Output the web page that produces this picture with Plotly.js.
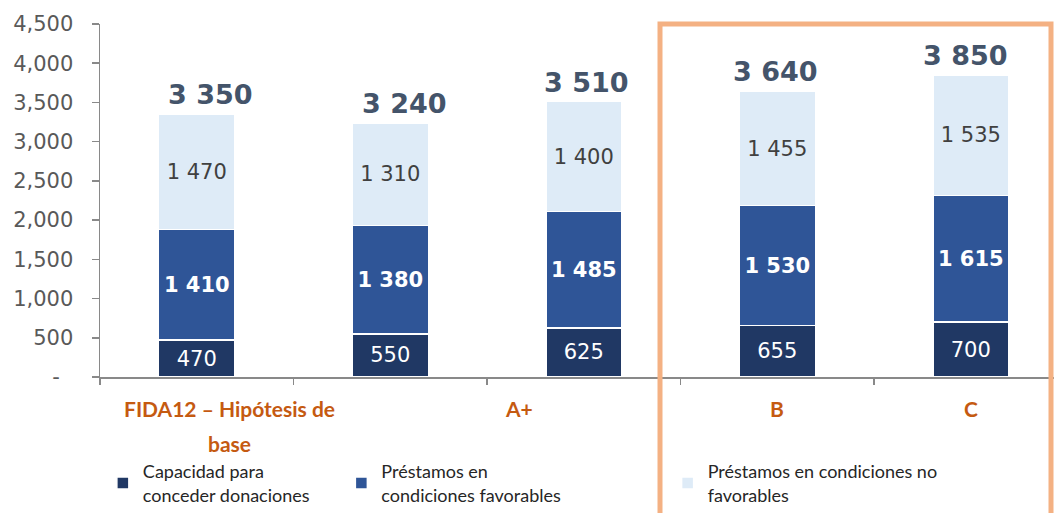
<!DOCTYPE html>
<html>
<head>
<meta charset="utf-8">
<script src="https://cdn.plot.ly/plotly-3.0.1.min.js"></script>
<style>
  html, body { margin: 0; padding: 0; background: #ffffff; }
  #chart { width: 1054px; height: 513px; }
</style>
</head>
<body>
<div id="chart"></div>
<script>
// ---- data ----
const categories = ["FIDA12 – Hipótesis de base", " ", "A+", "B", "C"];
const grantCapacity = [470, 550, 625, 655, 700];          // Capacidad para conceder donaciones
const concessionalLoans = [1410, 1380, 1485, 1530, 1615]; // Préstamos en condiciones favorables
const nonConcessionalLoans = [1470, 1310, 1400, 1455, 1535]; // Préstamos en condiciones no favorables
const seriesNames = [
  "Capacidad para<br>conceder donaciones",
  "Préstamos en<br>condiciones favorables",
  "Préstamos en condiciones no<br>favorables"
];
const yTickVals = [0, 500, 1000, 1500, 2000, 2500, 3000, 3500, 4000, 4500];
const yTickText = ["-\u00a0\u00a0", "500", "1,000", "1,500", "2,000", "2,500", "3,000", "3,500", "4,000", "4,500"];
const groupLabels = ["FIDA12 – Hipótesis de", "base", "A+", "B", "C"];

// ---- helpers ----
const fmt = v => String(v).replace(/\B(?=(\d{3})+(?!\d))/g, " ");
const totals = categories.map((c, i) => grantCapacity[i] + concessionalLoans[i] + nonConcessionalLoans[i]);

const C_DARK = "#203864", C_MID = "#2F5597", C_LIGHT = "#DEEBF7";
const VFONT = "DejaVu Sans, Verdana, sans-serif";
const LFONT = "Lato, Calibri, sans-serif";

function barTrace(vals, name, color, txtColor, bold, legendId) {
  return {
    type: "bar", x: categories, y: vals, name: name,
    marker: { color: color, line: { color: "#ffffff", width: 1.5 } },
    text: vals.map(fmt), textposition: "inside", insidetextanchor: "middle",
    textangle: 0, constraintext: "none",
    textfont: { family: VFONT, size: 21, color: txtColor, weight: bold ? "bold" : "normal" },
    hoverinfo: "skip", legend: legendId
  };
}

const traces = [
  barTrace(grantCapacity, seriesNames[0], C_DARK, "#ffffff", false, "legend"),
  barTrace(concessionalLoans, seriesNames[1], C_MID, "#ffffff", true, "legend2"),
  barTrace(nonConcessionalLoans, seriesNames[2], C_LIGHT, "#404040", false, "legend3")
];

// total labels (annotations anchored on the stacked totals)
const totalXShift = [14, 14, 3, -2, -5];
const totalAnnotations = categories.map((c, i) => ({
  text: fmt(totals[i]), xref: "x", x: c, yref: "y", y: totals[i],
  xanchor: "center", yanchor: "bottom", yshift: 2, xshift: totalXShift[i],
  showarrow: false,
  font: { family: VFONT, size: 27, color: "#44546A", weight: "bold" }
}));

const ORANGE = "#C55A11";
const labelFont = { family: LFONT, size: 21, color: ORANGE, weight: "bold" };
const groupAnnotations = [
  { text: groupLabels[0], x: 0.17, y: 408 },
  { text: groupLabels[1], x: 0.17, y: 443 },
  { text: groupLabels[2], x: 1.665, y: 408 },
  { text: groupLabels[3], x: 3, y: 408 },
  { text: groupLabels[4], x: 4, y: 408 }
].map(a => ({
  text: a.text, xref: "x", x: a.x, yref: "paper", y: (377 - a.y) / 353,
  xanchor: "center", yanchor: "middle", showarrow: false, font: labelFont
}));

const legendBase = {
  orientation: "h", yanchor: "middle", xanchor: "left",
  font: { family: LFONT, size: 18, color: "#262626" },
  bgcolor: "rgba(0,0,0,0)", borderwidth: 0, valign: "middle"
};

const layout = {
  width: 1054, height: 513,
  margin: { l: 100, r: 0, t: 24, b: 136 },
  paper_bgcolor: "#ffffff", plot_bgcolor: "#ffffff",
  barmode: "stack", bargap: 0.607,
  xaxis: {
    type: "category", range: [-0.5, 4.43],
    showticklabels: false, tickson: "boundaries", ticks: "outside",
    ticklen: 6, tickwidth: 1.5, tickcolor: "#898989",
    showline: true, linecolor: "#898989", linewidth: 1.5,
    showgrid: false, zeroline: false, fixedrange: true
  },
  yaxis: {
    range: [0, 4500], tickmode: "array", tickvals: yTickVals, ticktext: yTickText,
    ticks: "outside", ticklen: 7, tickwidth: 1.5, tickcolor: "#898989",
    ticklabelstandoff: 14,
    tickfont: { family: VFONT, size: 21, color: "#595959" },
    showline: true, linecolor: "#898989", linewidth: 1.5,
    showgrid: false, zeroline: false, fixedrange: true
  },
  legend: Object.assign({}, legendBase, { x: 0.003, y: -0.301 }),
  legend2: Object.assign({}, legendBase, { x: 0.253, y: -0.301 }),
  legend3: Object.assign({}, legendBase, { x: 0.595, y: -0.301 }),
  annotations: totalAnnotations.concat(groupAnnotations),
  shapes: [{
    type: "rect", xref: "paper", yref: "paper",
    x0: (660 - 100) / 954, x1: (1051 - 100) / 954,
    y0: (377 - 540) / 353, y1: (377 - 24) / 353,
    line: { color: "#F4B183", width: 5 }, fillcolor: "rgba(0,0,0,0)", layer: "above"
  }],
  showlegend: true
};

Plotly.newPlot("chart", traces, layout, { displayModeBar: false, staticPlot: true });
</script>
</body>
</html>
